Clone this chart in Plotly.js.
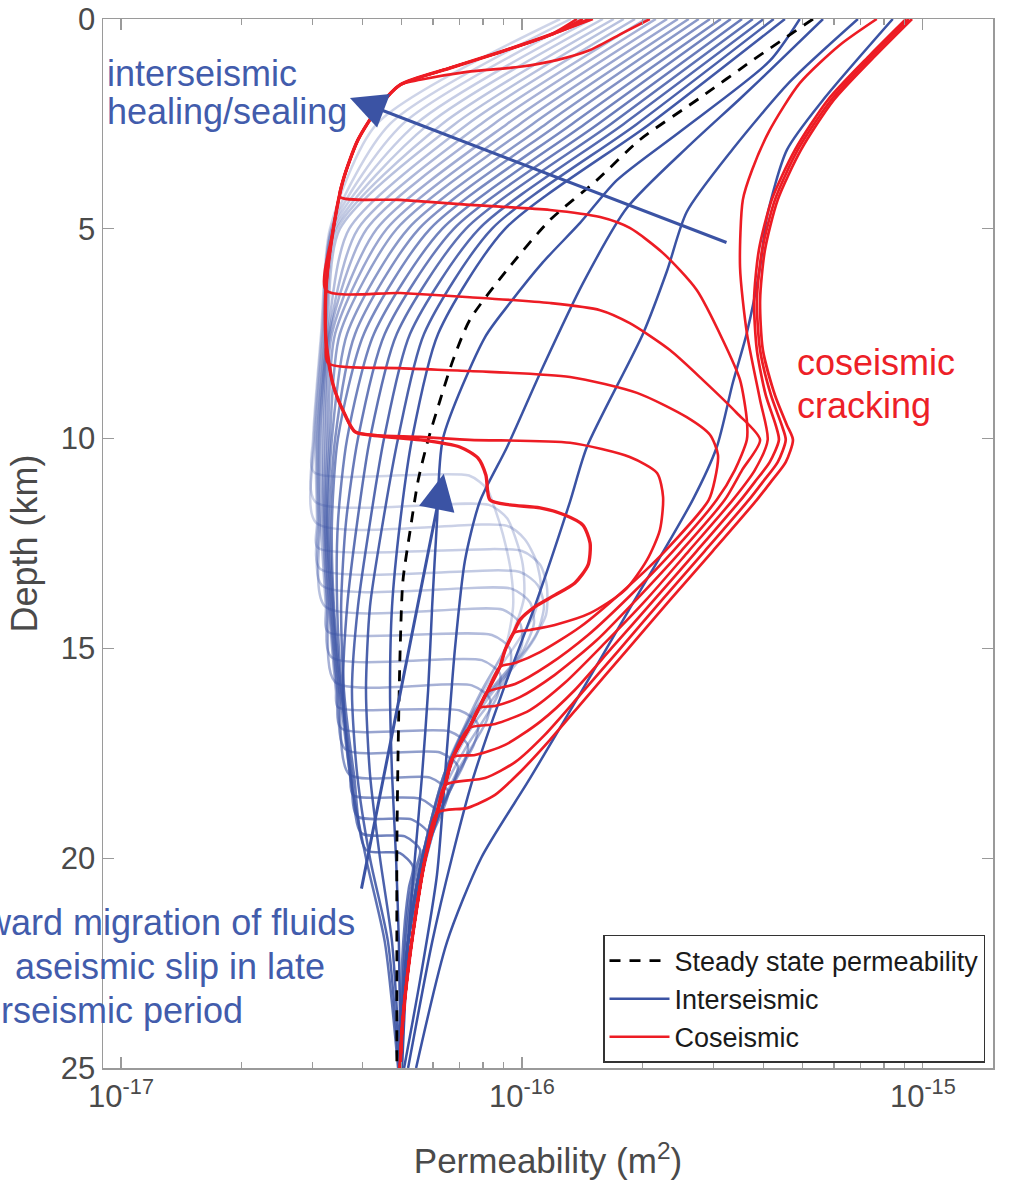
<!DOCTYPE html>
<html><head><meta charset="utf-8">
<script src="https://cdn.plot.ly/plotly-3.0.1.min.js"></script>
<style>html,body{margin:0;padding:0;background:#fff;} #chart{width:1015px;height:1186px;}</style>
</head><body><div id="chart"></div>
<script>
// Each curve: [depth (km), log10 permeability (m^2)]
// ---------- Interseismic profiles (light = later in the cycle) ----------
const fluidTail = [[16,-16.100],[17,-16.150],[18,-16.194],[19,-16.224],[20,-16.249],[21,-16.269],[22,-16.284],[23,-16.294],[25,-16.304]];
const inter01 = [[0,-15.905],[2.5,-16.362],[5,-16.479],[7.5,-16.501],[10,-16.521],[10.8,-16.519],[10.88,-16.132],[11.2,-16.087],[11.6,-16.070],[12.3,-16.047],[13.2,-16.027],[14,-16.022],[15,-16.042]];
const inter02 = [[0,-15.878],[2.5,-16.329],[5,-16.476],[7.5,-16.499],[10,-16.519],[11.5,-16.516],[11.58,-16.082],[11.9,-16.037],[12.4,-16.015],[13,-15.998],[13.8,-15.995],[14.8,-16.030]];
const inter03 = [[0,-15.853],[2.5,-16.297],[5,-16.474],[7.5,-16.496],[10,-16.516],[12,-16.514],[12.08,-16.037],[12.4,-15.993],[12.9,-15.965],[13.5,-15.953],[14.2,-15.970],[15,-16.022],[16,-16.095],[17,-16.147]];
const inter04 = [[0,-15.825],[2.5,-16.264],[5,-16.471],[7.5,-16.494],[10,-16.514],[12,-16.511],[12.6,-16.509],[12.68,-16.000],[13,-15.955],[13.5,-15.938],[14.2,-15.940],[14.9,-15.980],[15.6,-16.042],[16.5,-16.120],[17.5,-16.175],[18.5,-16.209],[19.5,-16.237]];
const inter05 = [[0,-15.798],[2.5,-16.232],[5,-16.466],[7.5,-16.491],[10,-16.511],[12,-16.509],[13.1,-16.504],[13.18,-16.005],[13.5,-15.960],[14,-15.945],[14.7,-15.965],[15.4,-16.017],[16.2,-16.092],[17,-16.147]];
const inter06 = [[0,-15.771],[2.5,-16.199],[5,-16.461],[7.5,-16.489],[10,-16.509],[12,-16.506],[13.5,-16.499],[13.58,-16.025],[13.9,-15.980],[14.4,-15.970],[15.1,-16.000],[15.8,-16.062],[16.6,-16.125],[17.5,-16.172]];
const inter07 = [[0,-15.746],[2.5,-16.167],[5,-16.454],[7.5,-16.486],[10,-16.506],[12,-16.504],[14,-16.491],[14.08,-16.047],[14.4,-16.005],[14.9,-16.000],[15.5,-16.030],[16.2,-16.085],[17,-16.142],[18,-16.189]];
const inter08 = [[0,-15.718],[2.5,-16.135],[5,-16.431],[7.5,-16.484],[10,-16.504],[12,-16.501],[14,-16.489],[14.6,-16.484],[14.68,-16.075],[15,-16.030],[15.5,-16.030],[16.1,-16.065],[16.8,-16.120],[17.6,-16.167],[18.5,-16.207],[19.5,-16.234]];
const inter09 = [[0,-15.691],[2.5,-16.102],[5,-16.409],[7.5,-16.481],[10,-16.499],[12,-16.496],[14,-16.486],[15.2,-16.476],[15.28,-16.100],[15.6,-16.055],[16.1,-16.060],[16.7,-16.095],[17.4,-16.142],[18.2,-16.187],[19,-16.219]];
const inter10 = [[0,-15.666],[2.5,-16.070],[5,-16.387],[7.5,-16.479],[10,-16.494],[12,-16.494],[14,-16.484],[15.8,-16.466],[15.88,-16.125],[16.2,-16.080],[16.7,-16.087],[17.3,-16.122],[18,-16.165],[18.8,-16.202],[19.6,-16.232],[20.5,-16.259],[21.5,-16.277]];
const inter11 = [[0,-15.638],[2.5,-16.037],[5,-16.362],[7.5,-16.474],[10,-16.489],[12,-16.491],[14,-16.481],[16,-16.464],[16.4,-16.459],[16.48,-16.155],[16.8,-16.110],[17.3,-16.120],[17.9,-16.155],[18.6,-16.192],[19.4,-16.222],[20.2,-16.244],[21,-16.264]];
const inter12 = [[0,-15.611],[2.5,-16.005],[5,-16.337],[7.5,-16.466],[10,-16.484],[12,-16.489],[14,-16.479],[16,-16.461],[16.9,-16.451],[16.98,-16.180],[17.3,-16.135],[17.8,-16.147],[18.4,-16.180],[19.1,-16.212],[19.9,-16.237],[20.8,-16.262]];
const inter13 = [[0,-15.584],[2.5,-15.973],[5,-16.312],[7.5,-16.454],[10,-16.479],[12,-16.486],[14,-16.476],[16,-16.459],[17.4,-16.441],[17.48,-16.204],[17.8,-16.160],[18.3,-16.175],[18.9,-16.204],[19.6,-16.232],[20.5,-16.254],[21.5,-16.274]];
const inter14 = [[0,-15.559],[2.5,-15.940],[5,-16.284],[7.5,-16.436],[10,-16.474],[12,-16.484],[14,-16.474],[16,-16.456],[18,-16.431],[18.08,-16.229],[18.4,-16.184],[18.9,-16.199],[19.5,-16.227],[20.2,-16.249],[21.2,-16.272],[22.5,-16.289]];
const inter15 = [[0,-15.531],[2.5,-15.908],[5,-16.257],[7.5,-16.416],[10,-16.466],[12,-16.479],[14,-16.471],[16,-16.454],[18,-16.429],[18.5,-16.421],[18.58,-16.254],[18.9,-16.212],[19.4,-16.227],[20,-16.247],[20.8,-16.267],[22,-16.284],[23.5,-16.297],[25,-16.304]];
const inter16 = [[0,-15.504],[2.5,-15.875],[5,-16.229],[7.5,-16.394],[10,-16.459],[12,-16.474],[14,-16.469],[16,-16.451],[18,-16.426],[19,-16.411],[19.08,-16.274],[19.4,-16.234],[19.9,-16.249],[20.5,-16.267],[21.3,-16.282],[22.5,-16.294],[25,-16.304]];
const inter17 = [[0,-15.479],[2.5,-15.843],[5,-16.199],[7.5,-16.369],[10,-16.436],[12,-16.459],[14,-16.461],[16,-16.449],[18,-16.424],[19.4,-16.401],[19.48,-16.292],[19.8,-16.254],[20.3,-16.267],[21,-16.282],[22,-16.292],[23.5,-16.299],[25,-16.304]];
const inter18 = [[0,-15.451],[2.5,-15.810],[5,-16.170],[7.5,-16.342],[10,-16.409],[12,-16.439],[14,-16.451],[16,-16.444],[18,-16.419],[19.8,-16.389],[19.88,-16.304],[20.2,-16.272],[20.7,-16.282],[21.5,-16.292],[22.5,-16.299],[25,-16.304]];
const inter19 = [[0,-15.424],[2.5,-15.778],[5,-16.140],[7.5,-16.312],[10,-16.379],[12,-16.411],[14,-16.436],[16,-16.446],[18,-16.429],[20,-16.389],[22,-16.342],[25,-16.309]];
const inter20 = [[0,-15.397],[2.5,-15.746],[5,-16.107],[7.5,-16.279],[10,-16.344],[12,-16.379],[14,-16.409],[16,-16.424],[18,-16.411],[20,-16.379],[22,-16.334],[25,-16.307]];
const inter21 = [[0,-15.372],[2.5,-15.713],[5,-16.075],[7.5,-16.244],[10,-16.309],[12,-16.347],[14,-16.379],[16,-16.389],[18,-16.379],[20,-16.354],[22,-16.324],[25,-16.304]];
const inter22 = [[0,-15.344],[2.5,-15.681],[5,-16.042],[7.5,-16.209],[10,-16.274],[12,-16.304],[14,-16.324],[16,-16.329],[18,-16.324],[20,-16.314],[22,-16.307],[25,-16.302]];
const interE  = [[0,-15.307],[1,-15.382],[2.65,-15.601],[3.84,-15.763],[4.86,-15.855],[5.8,-15.948],[6.77,-16.030],[7.58,-16.092],[10,-16.197],[12,-16.212],[14,-16.224],[16,-16.234],[18,-16.249],[20,-16.267],[22,-16.284],[25,-16.299]];
const interD3 = [[0,-15.249],[1,-15.357],[1.9,-15.456],[3,-15.581],[4.5,-15.738],[6.3,-15.848],[8.3,-15.948],[10.2,-16.037],[11.5,-16.105],[12.9,-16.142],[15,-16.167],[17.4,-16.187],[20.4,-16.212],[22.9,-16.254],[25,-16.294]];
const interD2 = [[0,-15.162],[1.5,-15.332],[3.1,-15.474],[4.6,-15.589],[6,-15.638],[7.5,-15.698],[10.2,-15.838],[11.5,-15.880],[14,-15.968],[16,-16.047],[18.1,-16.122],[20,-16.175],[22,-16.224],[25,-16.284]];
const interD1 = [[0,-15.075],[1.93,-15.249],[3.12,-15.339],[4.72,-15.389],[5.91,-15.406],[7.48,-15.439],[8.67,-15.474],[10.2,-15.514],[11.46,-15.574],[14,-15.728],[16,-15.850],[18.1,-15.980],[20,-16.102],[22,-16.187],[25,-16.264]];

// ---------- Steady state ----------
const steadyState = [[0,-15.274],[0.98,-15.424],[1.88,-15.556],[2.88,-15.706],[3.84,-15.813],[4.79,-15.930],[5.98,-16.037],[7.17,-16.130],[8.13,-16.172],[9.08,-16.204],[10.03,-16.234],[11,-16.259],[12.2,-16.279],[13.4,-16.297],[15.1,-16.304],[17.5,-16.309],[19.8,-16.312],[22.2,-16.312],[25,-16.312]];

// ---------- Coseismic profiles ----------
const redUpperRoute = [[0.38,-15.930],[0.79,-16.055],[1.17,-16.180],[1.57,-16.304]];
const redEnvelope = [[2.12,-16.359],[2.88,-16.409],[3.84,-16.446],[5.03,-16.471],[6.46,-16.489],[7.65,-16.489],[8.72,-16.471],[9.44,-16.441],[9.84,-16.416]];
const redBackboneTail = [[15.04,-16.042],[15.44,-16.055],[16.04,-16.087],[16.42,-16.107],[16.9,-16.132],[17.59,-16.172],[18.26,-16.192],[18.92,-16.212],[20.04,-16.242],[21.47,-16.267],[22.9,-16.287],[24.09,-16.299],[25,-16.304]];
const coS0Step = [[9.94,-16.354],[10.03,-16.254],[10.2,-16.155],[10.46,-16.110],[10.87,-16.090],[11.46,-16.080],[11.58,-16.030],[11.65,-15.955],[11.82,-15.893],[12.06,-15.848],[12.49,-15.830],[13.01,-15.835],[13.44,-15.868],[13.73,-15.918],[14.01,-15.968],[14.32,-16.005],[14.61,-16.020]];
const co98Branch = [[9.96,-16.254],[10.03,-16.130],[10.1,-15.880],[10.44,-15.731],[10.82,-15.663],[11.39,-15.648],[12.18,-15.656],[12.89,-15.688],[13.61,-15.743],[14.16,-15.830],[14.44,-15.918],[14.56,-15.980],[14.63,-16.020]];
const co82Branch = [[8.2,-16.484],[8.32,-16.304],[8.39,-16.130],[8.53,-15.880],[8.91,-15.713],[9.49,-15.589],[9.91,-15.531],[10.39,-15.511],[10.99,-15.519],[11.46,-15.534],[12.68,-15.643],[13.66,-15.751],[14.49,-15.855],[15.09,-15.955],[15.35,-16.017],[15.44,-16.055]];
const co65Branch = [[6.46,-16.489],[6.53,-16.304],[6.63,-16.130],[6.77,-15.930],[6.94,-15.805],[7.25,-15.731],[7.89,-15.631],[8.6,-15.549],[9.39,-15.464],[10.03,-15.406],[10.75,-15.451],[11.46,-15.494],[12.68,-15.603],[13.8,-15.711],[14.8,-15.813],[15.63,-15.918],[16.16,-16.005],[16.37,-16.067],[16.42,-16.107]];
const co42Top = [[0,-15.681],[0.33,-15.748],[0.74,-15.830],[0.98,-15.913],[1.14,-16.005],[1.26,-16.137],[1.45,-16.254],[1.57,-16.304]];
const co42Branch = [[4.24,-16.454],[4.31,-16.304],[4.43,-16.130],[4.55,-15.930],[4.72,-15.805],[4.98,-15.731],[5.58,-15.648],[6.46,-15.564],[7.65,-15.499],[8.6,-15.456],[9.56,-15.439],[10.03,-15.439],[10.75,-15.469],[11.46,-15.514],[12.68,-15.623],[13.75,-15.731],[14.68,-15.835],[15.4,-15.935],[15.85,-16.017],[16.04,-16.087]];
const coThin = [[0,-15.115],[0.62,-15.207],[1.53,-15.307],[2.65,-15.382],[3.6,-15.426],[4.31,-15.449],[5.91,-15.456],[7.48,-15.439],[9.08,-15.406],[10.03,-15.387],[10.75,-15.419],[11.46,-15.474],[12.68,-15.584],[13.85,-15.691],[14.87,-15.793],[15.82,-15.893],[16.47,-15.980],[16.8,-16.067],[16.9,-16.132]];
const coThickA = [[0,-15.042],[0.86,-15.132],[1.93,-15.237],[3.12,-15.319],[4.31,-15.377],[5.51,-15.409],[6.7,-15.421],[7.89,-15.414],[8.96,-15.392],[9.68,-15.367],[10.03,-15.359],[10.56,-15.382],[11.03,-15.419],[11.46,-15.454],[12.68,-15.564],[13.85,-15.671],[14.99,-15.776],[15.99,-15.868],[16.75,-15.955],[17.3,-16.042],[17.54,-16.117],[17.59,-16.172]];
const coThickB = [[0,-15.035],[0.86,-15.125],[1.93,-15.229],[3.12,-15.312],[4.31,-15.369],[5.51,-15.401],[6.7,-15.414],[7.89,-15.406],[8.96,-15.379],[9.68,-15.352],[10.03,-15.342],[10.56,-15.362],[11.03,-15.399],[11.46,-15.434],[12.68,-15.544],[13.85,-15.651],[15.04,-15.758],[16.11,-15.855],[17.06,-15.943],[17.71,-16.017],[18.09,-16.092],[18.26,-16.192]];
const coThickC = [[0,-15.027],[0.86,-15.117],[1.93,-15.222],[3.12,-15.304],[4.31,-15.362],[5.51,-15.394],[6.7,-15.406],[7.89,-15.399],[8.96,-15.369],[9.68,-15.339],[10.03,-15.324],[10.56,-15.342],[11.03,-15.379],[11.46,-15.414],[12.68,-15.524],[13.85,-15.631],[15.04,-15.738],[16.23,-15.845],[17.18,-15.930],[17.95,-16.005],[18.49,-16.067],[18.8,-16.135],[18.92,-16.212]];

// ---------- Axis ticks ----------
const xTickVals = [1e-17, 1e-16, 1e-15];
const xTickText = ['10<sup>-17</sup>', '10<sup>-16</sup>', '10<sup>-15</sup>'];
const xMinorVals = [2e-17,3e-17,4e-17,5e-17,6e-17,7e-17,8e-17,9e-17,2e-16,3e-16,4e-16,5e-16,6e-16,7e-16,8e-16,9e-16,2e-15,3e-15,4e-15,5e-15,6e-15];
const yTickVals = [0, 5, 10, 15, 20, 25];

// ---------- build ----------
const BLUE = 'rgb(59,83,164)';
const RED = 'rgb(237,28,36)';
const TXTBLUE = 'rgb(66,92,172)';
const TXTRED = 'rgb(237,32,39)';
const FONT = 'Liberation Sans, Arial, Helvetica, sans-serif';

function join(pts, tail) {
  const last = pts[pts.length - 1][0];
  return pts.concat(tail.filter(p => p[0] > last + 0.3));
}
function trace(pts, color, width, opacity, opts) {
  opts = opts || {};
  return {
    type: 'scatter', mode: 'lines',
    x: pts.map(p => Math.pow(10, p[1])),
    y: pts.map(p => p[0]),
    line: {color: color, width: width, shape: 'spline', smoothing: 0.7, dash: opts.dash || 'solid'},
    opacity: opacity,
    name: opts.name || '',
    showlegend: !!opts.name,
    legendrank: opts.rank || 1000,
    hoverinfo: 'skip'
  };
}

const lightCurves = [
  join(inter01, fluidTail), join(inter02, fluidTail), join(inter03, fluidTail), join(inter04, fluidTail),
  join(inter05, fluidTail), join(inter06, fluidTail), join(inter07, fluidTail), join(inter08, fluidTail),
  join(inter09, fluidTail), join(inter10, fluidTail), join(inter11, fluidTail), join(inter12, fluidTail),
  join(inter13, fluidTail), join(inter14, fluidTail), inter15, inter16, inter17, inter18,
  inter19, inter20, inter21, inter22
];

const traces = [];
lightCurves.forEach((c, i) => {
  const t = i / (lightCurves.length - 1);
  traces.push(trace(c, BLUE, 2.5, 0.25 + 0.72 * Math.pow(t, 1.5)));
});
traces.push(trace(interE, BLUE, 2.5, 1));
traces.push(trace(interD3, BLUE, 2.5, 1));
traces.push(trace(interD2, BLUE, 2.5, 1));
traces.push(trace(interD1, BLUE, 2.5, 1, {name: 'Interseismic', rank: 2}));
traces.push(trace(steadyState, '#000', 2.8, 1, {dash: '11px,9px', name: 'Steady state permeability', rank: 1}));

const env = (maxD) => redEnvelope.filter(p => p[0] <= maxD);
const co42 = join(co42Top.concat(env(3.9), co42Branch), redBackboneTail);
const co65 = join([[0,-15.823]].concat(redUpperRoute, env(5.1), co65Branch), redBackboneTail);
const co82 = join([[0,-15.863]].concat(redUpperRoute, env(7.7), co82Branch), redBackboneTail);
const co98 = join([[0,-15.848]].concat(redUpperRoute, redEnvelope, co98Branch), redBackboneTail);
const coS0 = [[0,-15.830]].concat(redUpperRoute, redEnvelope, coS0Step, redBackboneTail);

traces.push(trace(co42, RED, 2.6, 1));
traces.push(trace(co65, RED, 2.6, 1));
traces.push(trace(co82, RED, 2.6, 1));
traces.push(trace(co98, RED, 2.6, 1));
traces.push(trace(join(coThin, redBackboneTail), RED, 2.6, 1, {name: 'Coseismic', rank: 3}));
traces.push(trace(join(coThickA, redBackboneTail), RED, 2.7, 1));
traces.push(trace(join(coThickB, redBackboneTail), RED, 2.7, 1));
traces.push(trace(join(coThickC, redBackboneTail), RED, 2.7, 1));
traces.push(trace(coS0, RED, 3.4, 1));

const axisGray = '#9a9a9a';
const layout = {
  width: 1015, height: 1186,
  margin: {l: 103, r: 22, t: 19, b: 118},
  paper_bgcolor: '#fff', plot_bgcolor: '#fff',
  font: {family: FONT, color: '#4a4a4a'},
  xaxis: {
    type: 'log', range: [-17.045, -14.825],
    showline: true, linecolor: axisGray, linewidth: 1.5, mirror: 'ticks',
    ticks: 'inside', ticklen: 11, tickwidth: 1.3, tickcolor: axisGray,
    tickmode: 'array', tickvals: xTickVals, ticktext: xTickText,
    tickfont: {size: 31, color: '#4a4a4a', family: FONT},
    minor: {tickmode: 'array', tickvals: xMinorVals, ticks: 'inside', ticklen: 6, tickwidth: 1.2, tickcolor: axisGray, showgrid: false},
    showgrid: false, zeroline: false,
    title: {text: 'Permeability (m<sup>2</sup>)', font: {size: 35, color: '#4a4a4a', family: FONT}, standoff: 36}
  },
  yaxis: {
    range: [25, 0], autorange: false,
    showline: true, linecolor: axisGray, linewidth: 1.5, mirror: 'ticks',
    ticks: 'inside', ticklen: 11, tickwidth: 1.3, tickcolor: axisGray,
    tickmode: 'array', tickvals: yTickVals,
    tickfont: {size: 31, color: '#4a4a4a', family: FONT},
    showgrid: false, zeroline: false,
    title: {text: 'Depth (km)', font: {size: 36, color: '#4a4a4a', family: FONT}, standoff: 12}
  },
  showlegend: true,
  legend: {
    x: 0.5618, y: 0.1268, xanchor: 'left', yanchor: 'top',
    bgcolor: '#fff', bordercolor: '#333', borderwidth: 1.5,
    font: {size: 27, color: '#1a1a1a', family: FONT},
    traceorder: 'normal', itemwidth: 60, tracegroupgap: 0
  },
  annotations: [
    {xref: 'paper', yref: 'paper', x: 0.0022, y: 0.948, xanchor: 'left', yanchor: 'middle', showarrow: false, text: 'interseismic', font: {size: 36, color: TXTBLUE, family: FONT}},
    {xref: 'paper', yref: 'paper', x: 0.0022, y: 0.9114, xanchor: 'left', yanchor: 'middle', showarrow: false, text: 'healing/sealing', font: {size: 36, color: TXTBLUE, family: FONT}},
    {xref: 'paper', yref: 'paper', x: 0.7775, y: 0.673, xanchor: 'left', yanchor: 'middle', showarrow: false, text: 'coseismic', font: {size: 36, color: TXTRED, family: FONT}},
    {xref: 'paper', yref: 'paper', x: 0.7775, y: 0.632, xanchor: 'left', yanchor: 'middle', showarrow: false, text: 'cracking', font: {size: 36, color: TXTRED, family: FONT}},
    {xref: 'paper', yref: 'paper', x: 0.2854, y: 0.1385, xanchor: 'right', yanchor: 'middle', showarrow: false, text: 'upward migration of fluids', font: {size: 36, color: TXTBLUE, family: FONT}},
    {xref: 'paper', yref: 'paper', x: 0.2517, y: 0.0965, xanchor: 'right', yanchor: 'middle', showarrow: false, text: 'aseismic slip in late', font: {size: 36, color: TXTBLUE, family: FONT}},
    {xref: 'paper', yref: 'paper', x: 0.1596, y: 0.0546, xanchor: 'right', yanchor: 'middle', showarrow: false, text: 'interseismic period', font: {size: 36, color: TXTBLUE, family: FONT}},
    {xref: 'x', yref: 'y', axref: 'x', ayref: 'y', x: -16.429, y: 1.88, ax: -15.486, ay: 5.34, text: '', showarrow: true, arrowhead: 2, arrowsize: 2.4, arrowwidth: 3, arrowcolor: BLUE, standoff: 0},
    {xref: 'x', yref: 'y', axref: 'x', ayref: 'y', x: -16.195, y: 10.84, ax: -16.401, ay: 20.76, text: '', showarrow: true, arrowhead: 2, arrowsize: 2.4, arrowwidth: 3, arrowcolor: BLUE, standoff: 0}
  ]
};

Plotly.newPlot('chart', traces, layout, {displayModeBar: false, staticPlot: true});
</script></body></html>
